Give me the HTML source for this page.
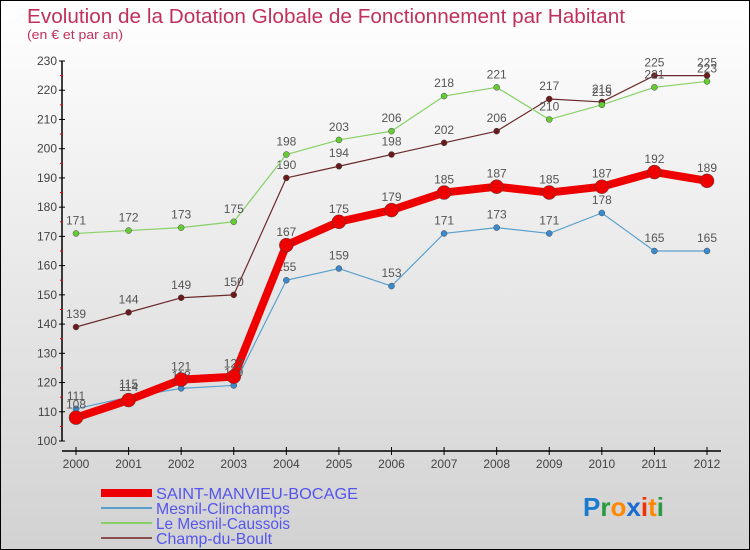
<!DOCTYPE html>
<html><head><meta charset="utf-8"><style>
html,body{margin:0;padding:0}
body{width:750px;height:550px;overflow:hidden;font-family:"Liberation Sans",sans-serif}
#wrap{position:relative;width:748px;height:548px;border:1px solid #000;background:linear-gradient(#ffffff,#d2d2d2)}
svg{position:absolute;left:0;top:0}
</style></head><body>
<div id="wrap">
<svg id="chart" width="748" height="548">
<text x="26" y="22" font-size="20" fill="#c0305a" textLength="598" lengthAdjust="spacingAndGlyphs">Evolution de la Dotation Globale de Fonctionnement par Habitant</text>
<text x="26" y="38" font-size="13" fill="#c0305a" textLength="96" lengthAdjust="spacingAndGlyphs">(en € et par an)</text>
<g id="axes"></g><g id="series"></g>
<g>
<line x1="100" y1="492" x2="151" y2="492" stroke="#ee0000" stroke-width="8"/>
<text x="155" y="498" font-size="16" fill="#5555ee" textLength="202" lengthAdjust="spacingAndGlyphs">SAINT-MANVIEU-BOCAGE</text>
<line x1="100" y1="507" x2="151" y2="507" stroke="#5aa0cc" stroke-width="2"/>
<text x="155" y="513" font-size="16" fill="#5555ee" textLength="134" lengthAdjust="spacingAndGlyphs">Mesnil-Clinchamps</text>
<line x1="100" y1="522" x2="151" y2="522" stroke="#88d066" stroke-width="2"/>
<text x="155" y="528" font-size="16" fill="#5555ee" textLength="134" lengthAdjust="spacingAndGlyphs">Le Mesnil-Caussois</text>
<line x1="100" y1="537" x2="151" y2="537" stroke="#8a5050" stroke-width="2"/>
<text x="155" y="543" font-size="16" fill="#5555ee" textLength="116" lengthAdjust="spacingAndGlyphs">Champ-du-Boult</text>
</g>
<g font-size="26" font-weight="bold">
<text x="582" y="515"><tspan fill="#1a7ad0">P</tspan><tspan fill="#2a9a40">r</tspan><tspan fill="#ff8800">o</tspan><tspan fill="#1a6ad0">x</tspan><tspan fill="#ee3300">i</tspan><tspan fill="#ff8800">t</tspan><tspan fill="#2a9a40">i</tspan></text>
</g>
</svg></div>
<script>
const years=[2000,2001,2002,2003,2004,2005,2006,2007,2008,2009,2010,2011,2012];
const yTicks=[100,110,120,130,140,150,160,170,180,190,200,210,220,230];
const saint=[108,114,121,122,167,175,179,185,187,185,187,192,189];
const mesnil=[111,115,118,119,155,159,153,171,173,171,178,165,165];
const caussois=[171,172,173,175,198,203,206,218,221,210,215,221,223];
const champ=[139,144,149,150,190,194,198,202,206,217,216,225,225];
const NS="http://www.w3.org/2000/svg";
const xS=i=>75+i*(706-75)/12;
const yS=v=>440-(v-100)*(380/130);
function mk(t,a,p){const e=document.createElementNS(NS,t);for(const k in a)e.setAttribute(k,a[k]);p.appendChild(e);return e;}
const ax=document.getElementById('axes');
let l=mk('line',{x1:61,y1:60,x2:61,y2:440,stroke:'#000','stroke-width':1.5},ax);


yTicks.forEach(v=>{
 mk('line',{x1:58,x2:64,y1:yS(v),y2:yS(v),stroke:'#000'},ax);
 if(v<230){const m=mk('line',{x1:59,x2:62,y1:yS(v+5),y2:yS(v+5),stroke:'#e00'},ax);}
 const t=mk('text',{x:56,y:yS(v)+4,'text-anchor':'end','font-size':12,fill:'#444'},ax);
 t.textContent=v;
 
 
});
l=mk('line',{x1:61,y1:450,x2:720,y2:450,stroke:'#000','stroke-width':1.5},ax);


years.forEach((y,i)=>{
 mk('line',{x1:xS(i),x2:xS(i),y1:446,y2:454,stroke:'#000'},ax);
 const t=mk('text',{x:xS(i),y:467,'text-anchor':'middle','font-size':12,fill:'#444'},ax);
 t.textContent=y;
 
 
});
const sg=document.getElementById('series');
function draw(vals,name,color,w,r,dot){
 const g=mk('g',{},sg);
 
 
 const p=mk('polyline',{points:vals.map((v,i)=>xS(i)+','+yS(v)).join(' '),fill:'none',stroke:color,'stroke-width':w,'stroke-linejoin':'round'},g);
 
 
 vals.forEach((v,i)=>{
  const c=mk('circle',{cx:xS(i),cy:yS(v),r:r,fill:dot,stroke:'#444','stroke-width':0.5},g);
  
  
  const t=mk('text',{x:xS(i),y:yS(v)-9,'text-anchor':'middle','font-size':12,fill:'#555'},g);
  t.textContent=v;
  
  
 });
}
draw(champ,'champ-du-boult','#6a2a2a',1.2,3,'#6a1a1a');
draw(caussois,'le-mesnil-caussois','#88d066',1.2,3,'#66cc33');
draw(mesnil,'mesnil-clinchamps','#5aa0cc',1.2,3,'#3a8ad0');
draw(saint,'saint-manvieu','#ee0000',8,7,'#ee0000');
</script>
</body></html>
